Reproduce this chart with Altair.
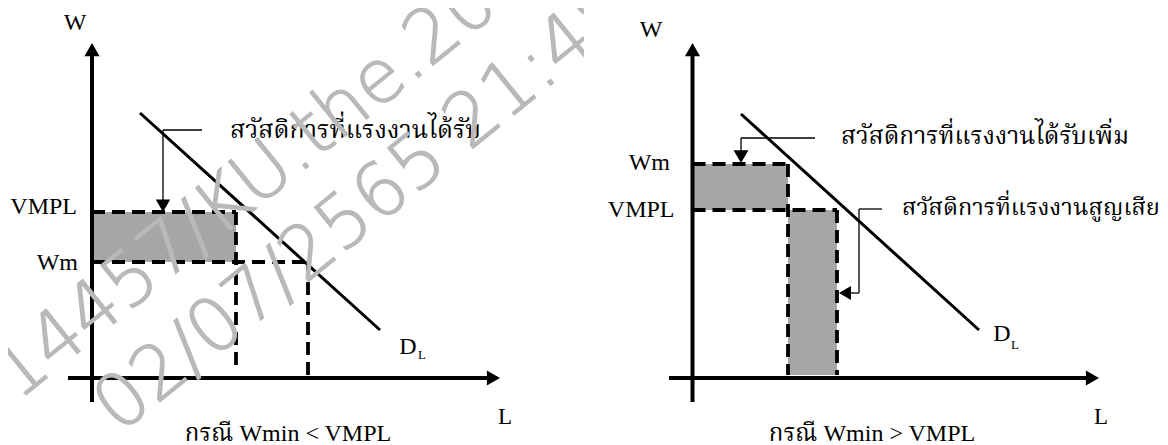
import math
import altair as alt
import pandas as pd

# ---------------- data (diagram units: L horizontal, W vertical, origin at axes crossing) ----------------
AXIS_W_BOTTOM = -2.4
AXIS_W_TIP = 33.5

P1_AXIS_L_LEFT = -2.4
P1_AXIS_L_TIP = 40.8
P2_AXIS_L_LEFT = -2.35
P2_AXIS_L_TIP = 40.65

# demand curve D_L (start / end points)
P1_DL_L = [4.8, 28.8]
P1_DL_W = [26.5, 4.8]
P2_DL_L = [4.85, 28.65]
P2_DL_W = [26.4, 4.8]

# panel 1: Wmin < VMPL
P1_VMPL = 16.6
P1_WM = 11.6
P1_L_RECT = 14.4
P1_L_RECT_BOTTOM = 1.3
P1_L_WM = 21.6

# panel 2: Wmin > VMPL
P2_WM = 21.4
P2_VMPL = 16.8
P2_L_WM = 9.55
P2_L_VMPL = 14.45
P2_RECT_BOTTOM = 0.3

# leader lines of the annotations
P1_LEADER_L = [7.1, 11.0]
P1_LEADER_W = 24.8
P2_LEADER1_L = [4.85, 12.25]
P2_LEADER1_W = 24.0
P2_LEADER2_L = [16.65, 18.95]
P2_LEADER2_W = 16.9
P2_LEADER2_ELBOW_W = 8.5
P2_LEADER2_TIP_L = 14.65

# texts
P1_TEXTS = {
    "W": (-1.7, 35.5), "L": (41.3, -3.9), "VMPL": (-1.5, 17.1), "Wm": (-1.4, 11.5),
    "D": (31.6, 3.1), "sub": (33.0, 2.3),
    "note": (13.8, 24.8), "caption": (19.6, -5.55),
}
P2_TEXTS = {
    "W": (-4.15, 34.8), "L": (40.85, -3.9), "VMPL": (-1.8, 16.8), "Wm": (-2.25, 21.5),
    "D": (30.95, 4.4), "sub": (32.25, 3.3),
    "note1": (14.85, 24.1), "note2": (20.95, 17.0), "caption": (17.95, -5.55),
}
NOTE_GAIN = "สวัสดิการที่แรงงานได้รับ"
NOTE_GAIN_MORE = "สวัสดิการที่แรงงานได้รับเพิ่ม"
NOTE_LOSS = "สวัสดิการที่แรงงานสูญเสีย"
CAPTION_1 = "กรณี Wmin < VMPL"
CAPTION_2 = "กรณี Wmin > VMPL"

WATERMARK_LINES = ["6514457/KU.the.2022", "02/07/2565 21:48:"]
WATERMARK_POS = [(-16.16, -6.6), (1.35, -3.95)]

# ---------------- layout / style ----------------
PANEL_W = 576
PANEL_H = 437
X_DOMAINS = [[-8.4, 49.2], [-10.85, 46.75]]
Y_DOMAIN = [-6.7, 37.0]
LATIN_FONT = "Liberation Serif, DejaVu Serif, serif"
THAI_FONT = "Liberation Serif, Noto Serif Thai, Noto Sans Thai, Loma, Garuda, Norasi, serif"
GREY = "#a6a6a6"


def seg(rows):
    return pd.DataFrame(rows, columns=["x", "y", "x2", "y2"])


def build_panel(i, rects, dashed, solid, arrows, texts, watermark=None):
    xs = alt.Scale(domain=X_DOMAINS[i], nice=False, zero=False)
    ys = alt.Scale(domain=Y_DOMAIN, nice=False, zero=False)
    X = lambda f: alt.X(f + ":Q", scale=xs, axis=None)
    Y = lambda f: alt.Y(f + ":Q", scale=ys, axis=None)

    layers = []
    layers.append(alt.Chart(seg(rects)).mark_rect(color=GREY).encode(
        x=X("x"), x2="x2", y=Y("y"), y2="y2"))
    layers.append(alt.Chart(seg(dashed)).mark_rule(color="black", strokeWidth=3.8, strokeDash=[13, 7]).encode(
        x=X("x"), x2="x2", y=Y("y"), y2="y2"))
    sdf = pd.DataFrame(solid, columns=["x", "y", "x2", "y2", "w"])
    layers.append(alt.Chart(sdf).mark_rule(color="black", strokeCap="butt").encode(
        x=X("x"), x2="x2", y=Y("y"), y2="y2", strokeWidth=alt.StrokeWidth("w:Q", scale=None)))
    offs = {"triangle-up": (0, 1), "triangle-down": (0, -1), "triangle-right": (-1, 0), "triangle-left": (1, 0)}
    for (ax, ay, shape, size) in arrows:
        dx, dy = offs[shape]
        h = 0.433 * math.sqrt(size)
        adf = pd.DataFrame({"x": [ax], "y": [ay]})
        layers.append(alt.Chart(adf).mark_point(
            shape=shape, filled=True, color="black", opacity=1, size=size,
            xOffset=dx * h, yOffset=dy * h).encode(x=X("x"), y=Y("y")))
    for (align, font), rows in texts.items():
        tdf = pd.DataFrame(rows, columns=["x", "y", "t", "s"])
        layers.append(alt.Chart(tdf).mark_text(
            align=align, baseline="middle", font=font, color="black", clip=True).encode(
            x=X("x"), y=Y("y"), text="t:N", size=alt.Size("s:Q", scale=None)))
    if watermark is not None:
        layers.append(alt.Chart(watermark).mark_text(
            align="left", baseline="middle", font="DejaVu Sans", fontSize=74, fontWeight=200,
            angle=321, color="#b9b9b9", stroke="#b9b9b9", strokeWidth=1.3, opacity=1,
            blend="multiply", clip=True).encode(x=X("x"), y=Y("y"), text="t:N"))
    return alt.layer(*layers).properties(width=PANEL_W, height=PANEL_H)


# ---------- panel 1 ----------
p1_rects = [(0, P1_WM, P1_L_RECT, P1_VMPL)]
p1_dashed = [
    (0, P1_VMPL, P1_L_RECT, P1_VMPL),
    (P1_L_RECT, P1_VMPL, P1_L_RECT, P1_L_RECT_BOTTOM),
    (0, P1_WM, P1_L_WM, P1_WM),
    (P1_L_WM, P1_WM, P1_L_WM, 0),
]
p1_solid = [
    (0, AXIS_W_BOTTOM, 0, AXIS_W_TIP - 1.0, 4),
    (P1_AXIS_L_LEFT, 0, P1_AXIS_L_TIP - 1.0, 0, 4),
    (P1_DL_L[0], P1_DL_W[0], P1_DL_L[1], P1_DL_W[1], 3),
    (P1_LEADER_L[0], P1_LEADER_W, P1_LEADER_L[1], P1_LEADER_W, 1.3),
    (P1_LEADER_L[0], P1_LEADER_W, P1_LEADER_L[0], P1_VMPL + 1.0, 1.3),
]
p1_arrows = [
    (0, AXIS_W_TIP, "triangle-up", 230),
    (P1_AXIS_L_TIP, 0, "triangle-right", 230),
    (P1_LEADER_L[0], P1_VMPL, "triangle-down", 210),
]
t = P1_TEXTS
p1_texts = {
    ("center", LATIN_FONT): [
        (*t["W"], "W", 24), (*t["L"], "L", 23), (*t["D"], "D", 24), (*t["sub"], "L", 13)],
    ("center", THAI_FONT): [(*t["caption"], CAPTION_1, 24)],
    ("left", THAI_FONT): [(*t["note"], NOTE_GAIN, 25)],
    ("right", LATIN_FONT): [(*t["VMPL"], "VMPL", 24), (*t["Wm"], "Wm", 24)],
}
wm = pd.DataFrame({"x": [p[0] for p in WATERMARK_POS], "y": [p[1] for p in WATERMARK_POS], "t": WATERMARK_LINES})

panel1 = build_panel(0, p1_rects, p1_dashed, p1_solid, p1_arrows, p1_texts, watermark=wm)

# ---------- panel 2 ----------
p2_rects = [(0, P2_VMPL, P2_L_WM, P2_WM), (P2_L_WM, P2_RECT_BOTTOM, P2_L_VMPL, P2_VMPL)]
p2_dashed = [
    (0, P2_WM, P2_L_WM, P2_WM),
    (P2_L_WM, P2_WM, P2_L_WM, P2_RECT_BOTTOM),
    (0, P2_VMPL, P2_L_VMPL, P2_VMPL),
    (P2_L_VMPL, P2_VMPL, P2_L_VMPL, P2_RECT_BOTTOM),
]
p2_solid = [
    (0, AXIS_W_BOTTOM, 0, AXIS_W_TIP - 1.0, 4),
    (P2_AXIS_L_LEFT, 0, P2_AXIS_L_TIP - 1.0, 0, 4),
    (P2_DL_L[0], P2_DL_W[0], P2_DL_L[1], P2_DL_W[1], 3),
    (P2_LEADER1_L[0], P2_LEADER1_W, P2_LEADER1_L[1], P2_LEADER1_W, 1.3),
    (P2_LEADER1_L[0], P2_LEADER1_W, P2_LEADER1_L[0], P2_WM + 1.0, 1.3),
    (P2_LEADER2_L[0], P2_LEADER2_W, P2_LEADER2_L[1], P2_LEADER2_W, 1.3),
    (P2_LEADER2_L[0], P2_LEADER2_W, P2_LEADER2_L[0], P2_LEADER2_ELBOW_W, 1.3),
    (P2_LEADER2_L[0], P2_LEADER2_ELBOW_W, P2_LEADER2_TIP_L + 1.0, P2_LEADER2_ELBOW_W, 1.3),
]
p2_arrows = [
    (0, AXIS_W_TIP, "triangle-up", 230),
    (P2_AXIS_L_TIP, 0, "triangle-right", 230),
    (P2_LEADER1_L[0], P2_WM + 0.1, "triangle-down", 220),
    (P2_LEADER2_TIP_L, P2_LEADER2_ELBOW_W, "triangle-left", 190),
]
t = P2_TEXTS
p2_texts = {
    ("center", LATIN_FONT): [
        (*t["W"], "W", 24), (*t["L"], "L", 23), (*t["D"], "D", 24), (*t["sub"], "L", 13)],
    ("center", THAI_FONT): [(*t["caption"], CAPTION_2, 24)],
    ("left", THAI_FONT): [(*t["note1"], NOTE_GAIN_MORE, 24.5), (*t["note2"], NOTE_LOSS, 23.5)],
    ("right", LATIN_FONT): [(*t["VMPL"], "VMPL", 24), (*t["Wm"], "Wm", 24)],
}

panel2 = build_panel(1, p2_rects, p2_dashed, p2_solid, p2_arrows, p2_texts)

chart = alt.hconcat(panel1, panel2, spacing=0).properties(
    padding=0, background="white"
).configure_view(strokeWidth=0)

chart.save("out.html", embed_options={"renderer": "svg", "actions": False})
